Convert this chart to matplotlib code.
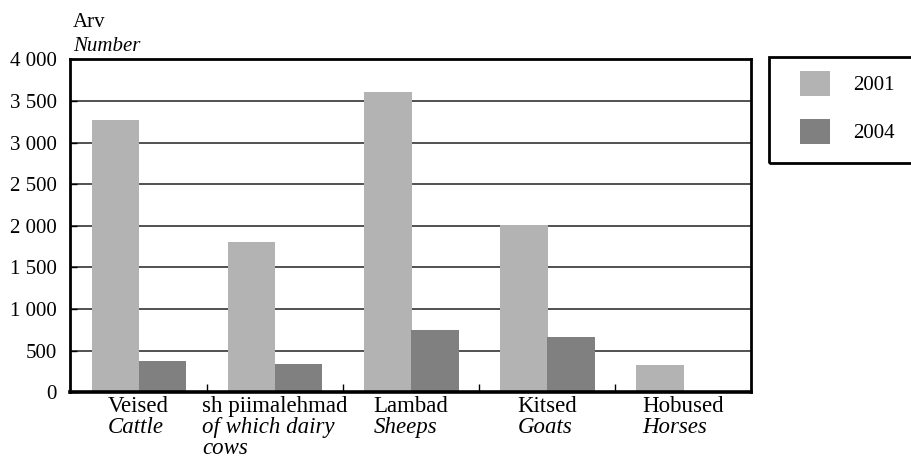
import matplotlib
matplotlib.use('Agg')
import matplotlib.pyplot as plt
from matplotlib.patches import Rectangle
from matplotlib.offsetbox import TextArea, VPacker, AnnotationBbox
from matplotlib.ticker import FuncFormatter, FixedLocator

plt.rcParams['font.family'] = ['Liberation Serif', 'DejaVu Serif']

# Data
categories_et = ['Veised', 'sh piimalehmad', 'Lambad', 'Kitsed', 'Hobused']
categories_en = ['Cattle', 'of which dairy\ncows', 'Sheeps', 'Goats', 'Horses']
years = ['2001', '2004']
values_2001 = [3275, 1805, 3610, 2005, 325]
values_2004 = [375, 340, 750, 660, 0]

col_2001 = '#b3b3b3'
col_2004 = '#808080'
fs = 15
fs_cat = 16.5

fig = plt.figure(figsize=(9.12, 4.63), dpi=100)
ax = fig.add_axes([0.0773, 0.1527, 0.7467, 0.7188])

x = list(range(len(categories_et)))
w = 0.35
ax.bar([i - 0.17 for i in x], values_2001, width=w, color=col_2001, label=years[0], zorder=2)
ax.bar([i + 0.175 for i in x], values_2004, width=w, color=col_2004, label=years[1], zorder=2)

ax.set_xlim(-0.5, len(categories_et) - 0.5)
ax.set_ylim(0, 4000)
ax.set_yticks(range(0, 4001, 500))
ax.yaxis.set_major_formatter(FuncFormatter(lambda v, p: f'{v:,.0f}'.replace(',', ' ')))
ax.tick_params(axis='y', direction='in', length=5, width=1, pad=10, labelsize=fs)
ax.set_xticks([])
ax.xaxis.set_minor_locator(FixedLocator([i + 0.5 for i in x[:-1]]))
ax.tick_params(axis='x', which='minor', direction='in', length=6, width=1)

ax.set_axisbelow(True)
ax.yaxis.grid(True, color='#333333', linewidth=1.2)

for s in ['left', 'top', 'right']:
    ax.spines[s].set_linewidth(2)
ax.spines['bottom'].set_linewidth(2.6)

# two-line category labels, block centred under each group
for i, (et, en) in enumerate(zip(categories_et, categories_en)):
    lines = [TextArea(et, textprops=dict(fontsize=fs_cat))]
    for part in en.split('\n'):
        lines.append(TextArea(part, textprops=dict(fontsize=fs_cat, style='italic')))
    box = VPacker(children=lines, align='left', pad=0, sep=0)
    ab = AnnotationBbox(box, (i, 0), xycoords=('data', 'axes fraction'),
                        xybox=(0, -3), boxcoords='offset points',
                        box_alignment=(0.5, 1), frameon=False, annotation_clip=False)
    ax.add_artist(ab)

# unit label
fig.text(0.080, 0.942, 'Arv', fontsize=fs, va='baseline')
fig.text(0.080, 0.8905, 'Number', fontsize=fs, style='italic', va='baseline')

# legend
ax.legend(loc='upper left', bbox_to_anchor=(0.877, 0.8467), bbox_transform=fig.transFigure,
          frameon=False, fontsize=fs, borderpad=0, borderaxespad=0,
          handlelength=1.44, handleheight=1.44, labelspacing=1.13, handletextpad=1.1)
fig.patches.append(Rectangle((0.8432, 0.648), 0.25, 0.2296, transform=fig.transFigure,
                             fill=False, edgecolor='black', linewidth=2, clip_on=False))

plt.savefig('out.png', dpi=100)
